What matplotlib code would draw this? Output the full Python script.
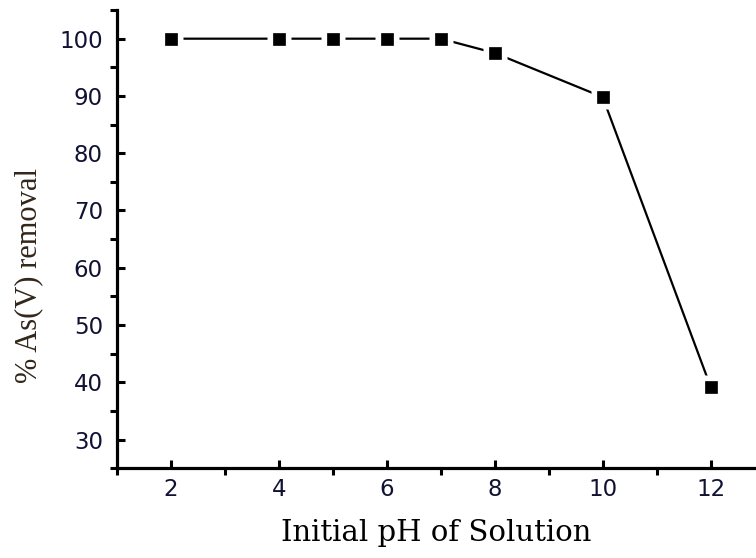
import matplotlib
matplotlib.use("Agg")
import matplotlib.pyplot as plt
from matplotlib.ticker import MultipleLocator

ph = [2, 4, 5, 6, 7, 8, 10, 12]
removal = [100.0, 100.0, 100.0, 100.0, 100.0, 97.5, 89.8, 39.2]
x_label = "Initial pH of Solution"
y_label = "% As(V) removal"

fig = plt.figure(figsize=(7.56, 5.58), dpi=100)
ax = fig.add_axes([0.1545, 0.161, 0.8455, 0.821])

ax.plot(ph, removal, color="black", lw=1.6, zorder=2)
ax.plot(ph, removal, ls="none", marker="s", ms=17, mfc="white", mec="none", zorder=3)
ax.plot(ph, removal, ls="none", marker="s", ms=9, mfc="black", mec="black", mew=0.5, zorder=4)

ax.set_xlim(1, 12.84)
ax.set_ylim(25, 105)
ax.xaxis.set_major_locator(MultipleLocator(2))
ax.xaxis.set_minor_locator(MultipleLocator(1))
ax.yaxis.set_major_locator(MultipleLocator(10))
ax.yaxis.set_minor_locator(MultipleLocator(5))
ax.set_yticks([30, 40, 50, 60, 70, 80, 90, 100])

for s in ["top", "right"]:
    ax.spines[s].set_visible(False)
for s in ["left", "bottom"]:
    ax.spines[s].set_linewidth(2.3)

ax.tick_params(which="major", direction="in", length=6, width=2.2)
ax.tick_params(which="minor", direction="out", length=5, width=2.2)
ax.tick_params(axis="y", which="major", pad=10)
ax.tick_params(axis="x", which="major", pad=7)

for lab in ax.get_xticklabels() + ax.get_yticklabels():
    lab.set_fontfamily("DejaVu Sans")
    lab.set_fontsize(16.5)
    lab.set_color("#111133")

ax.set_xlabel(x_label, family="DejaVu Serif", fontsize=21, labelpad=13)
ax.set_ylabel(y_label, family="Liberation Serif", fontsize=22, color="#33261a")
ax.yaxis.set_label_coords(-0.115, 0.42)

fig.savefig("out.png", dpi=100)
